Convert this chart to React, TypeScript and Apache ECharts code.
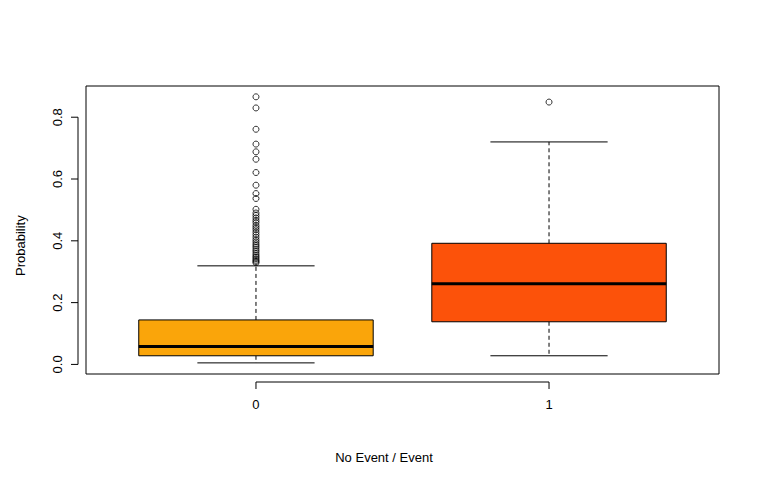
import React, { useEffect, useRef } from 'react';
import * as echarts from 'echarts';

// quartiles per group: [low whisker, Q1, median, Q3, high whisker]
const groups = ['0', '1'];
const boxStats = [
  [0.005, 0.028, 0.058, 0.144, 0.319],
  [0.028, 0.138, 0.261, 0.392, 0.72],
];
const boxColors = ['#FAA50A', '#FC520A'];
const outliers0 = [
  0.866, 0.83, 0.761, 0.713, 0.688, 0.664, 0.621, 0.58, 0.553, 0.537, 0.502,
  0.49, 0.482, 0.474, 0.466, 0.459, 0.45, 0.443, 0.436, 0.428, 0.42, 0.412,
  0.404, 0.397, 0.39, 0.384, 0.378, 0.371, 0.365, 0.358, 0.352, 0.347, 0.342,
  0.337, 0.333, 0.329,
];
const outliers1 = [0.849];
const yTicks = [0, 0.2, 0.4, 0.6, 0.8];

export default function App() {
  const chartRef = useRef<HTMLDivElement>(null);

  useEffect(() => {
    if (!chartRef.current) return;
    const chart = echarts.init(chartRef.current, null, { renderer: 'svg' });
    const font = 'Arial, "Liberation Sans", sans-serif';

    const boxData = boxStats.map((s, i) => [i + 1, ...s]);
    const outData = [
      ...outliers0.map((v) => [1, v]),
      ...outliers1.map((v) => [2, v]),
    ];

    chart.setOption({
      animation: false,
      grid: { left: 78, right: 41, top: 78, bottom: 98, show: true, borderColor: '#000', borderWidth: 1 },
      xAxis: {
        type: 'value', min: 0.42, max: 2.58,
        splitLine: { show: false }, axisLine: { show: false },
        axisTick: { show: false },
        axisLabel: {
          customValues: [1, 2], margin: 24, color: '#000', fontSize: 13, fontFamily: font,
          formatter: (v: number) => groups[Math.round(v) - 1],
        },
      },
      yAxis: {
        type: 'value', min: -0.031, max: 0.901,
        splitLine: { show: false }, axisLine: { show: false },
        axisTick: { show: false },
        axisLabel: {
          customValues: yTicks, rotate: 90, margin: 22, color: '#000', fontSize: 13, fontFamily: font,
          formatter: (v: number) => v.toFixed(1),
        },
      },
      graphic: [
        { type: 'text', left: 'center', top: 443, style: { text: 'No Event / Event', fontSize: 13, fontFamily: font, fill: '#000' } },
        { type: 'text', x: 6, y: 268, rotation: Math.PI / 2, style: { text: 'Probability', fontSize: 13, fontFamily: font, fill: '#000' } },
      ],
      series: [
        {
          type: 'custom',
          clip: false,
          data: [[0]],
          renderItem: (params: any, api: any) => {
            const children: any[] = [];
            const lx = api.coord([0.42, 0])[0] - 8;
            const by = api.coord([0, -0.031])[1] + 8;
            const y0 = api.coord([0, 0])[1];
            const y8 = api.coord([0, 0.8])[1];
            const st = { stroke: '#000', lineWidth: 1 };
            children.push({ type: 'line', shape: { x1: lx, y1: y0, x2: lx, y2: y8 }, style: st });
            yTicks.forEach((t) => {
              const y = api.coord([0, t])[1];
              children.push({ type: 'line', shape: { x1: lx - 7, y1: y, x2: lx, y2: y }, style: st });
            });
            const x1 = api.coord([1, 0])[0];
            const x2 = api.coord([2, 0])[0];
            children.push({ type: 'line', shape: { x1, y1: by, x2, y2: by }, style: st });
            [x1, x2].forEach((x) =>
              children.push({ type: 'line', shape: { x1: x, y1: by, x2: x, y2: by + 7 }, style: st }));
            return { type: 'group', children };
          },
        },
        {
          type: 'custom',
          data: boxData,
          renderItem: (params: any, api: any) => {
            const x = api.value(0);
            const [lo, q1, md, q3, hi] = [1, 2, 3, 4, 5].map((d) => api.value(d));
            const halfBox = 0.4;
            const halfCap = 0.2;
            const pL = api.coord([x - halfBox, q3]);
            const pR = api.coord([x + halfBox, q1]);
            const cx = api.coord([x, 0])[0];
            const cL = api.coord([x - halfCap, 0])[0];
            const cR = api.coord([x + halfCap, 0])[0];
            const yy = (v: number) => api.coord([x, v])[1];
            const st = { stroke: '#000', lineWidth: 1 };
            const dash = { stroke: '#000', lineWidth: 1, lineDash: [4, 3] };
            return {
              type: 'group',
              children: [
                { type: 'line', shape: { x1: cx, y1: yy(q3), x2: cx, y2: yy(hi) }, style: dash },
                { type: 'line', shape: { x1: cx, y1: yy(q1), x2: cx, y2: yy(lo) }, style: dash },
                { type: 'line', shape: { x1: cL, y1: yy(hi), x2: cR, y2: yy(hi) }, style: st },
                { type: 'line', shape: { x1: cL, y1: yy(lo), x2: cR, y2: yy(lo) }, style: st },
                {
                  type: 'rect',
                  shape: { x: pL[0], y: pL[1], width: pR[0] - pL[0], height: pR[1] - pL[1] },
                  style: { fill: boxColors[params.dataIndex], stroke: '#000', lineWidth: 1 },
                },
                { type: 'line', shape: { x1: pL[0], y1: yy(md), x2: pR[0], y2: yy(md) }, style: { stroke: '#000', lineWidth: 3 } },
              ],
            };
          },
        },
        {
          type: 'scatter',
          data: outData,
          symbol: 'circle',
          symbolSize: 6,
          itemStyle: { color: 'rgba(0,0,0,0)', borderColor: '#000', borderWidth: 1 },
        },
      ],
    });

    return () => chart.dispose();
  }, []);

  return <div ref={chartRef} style={{ width: 752, height: 464 }} />;
}
